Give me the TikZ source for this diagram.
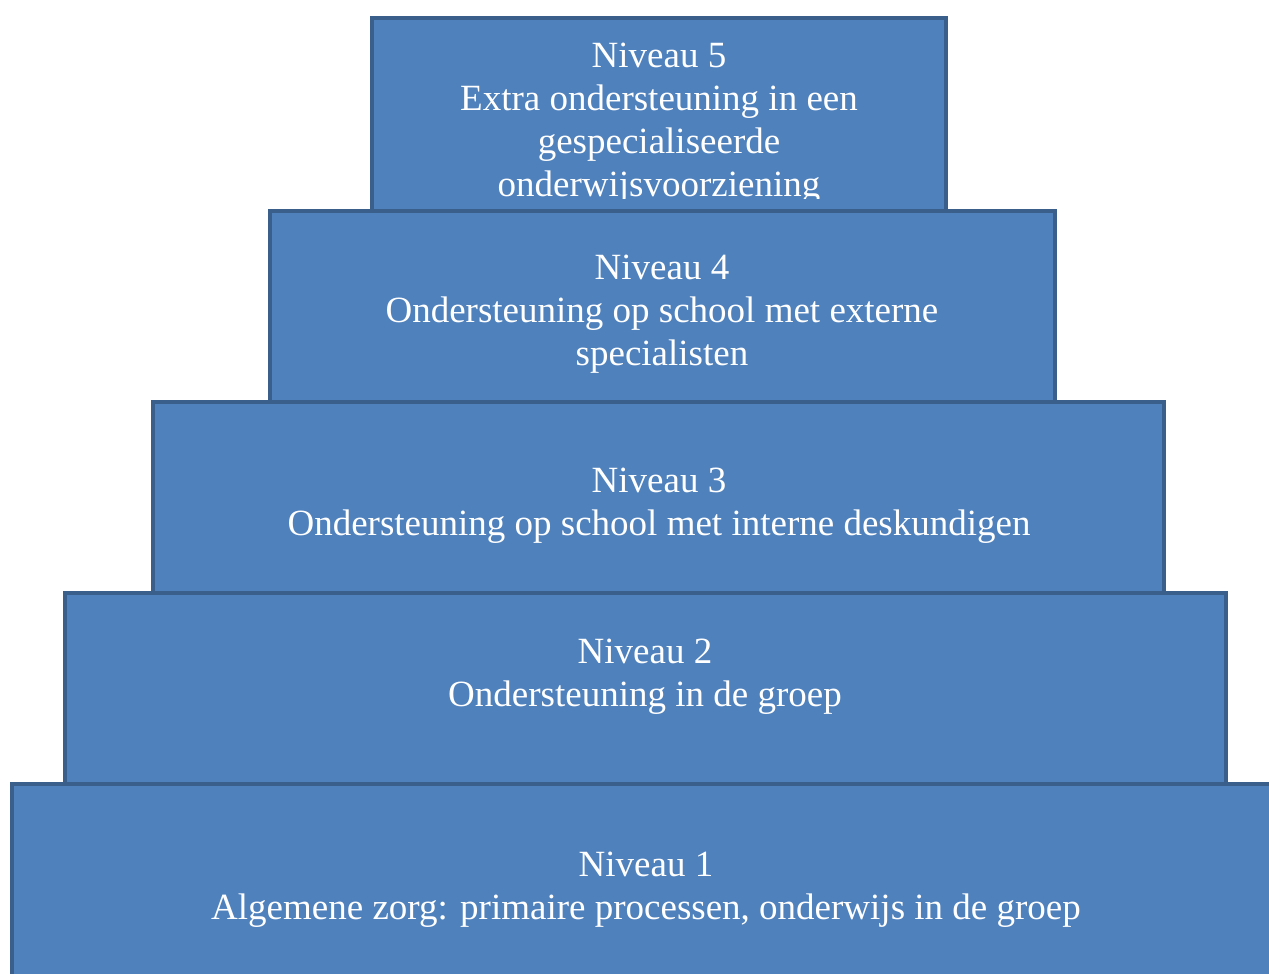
\documentclass[tikz,border=0pt]{standalone}
\usepackage{fontspec}
\setmainfont{Liberation Serif}
\usetikzlibrary{positioning}
\definecolor{tierblue}{HTML}{4F81BD}
\definecolor{tieredge}{HTML}{3A5F8B}

\begin{document}
\begin{tikzpicture}[x=1pt, y=-1pt, tier/.style = {fill=tierblue, draw=tieredge, line width=3.5pt}, every node/.style = {align=center, text=white, inner sep=0pt, font=\fontsize{37}{43}\selectfont}]
  \useasboundingbox (0,0) rectangle (1269,974);
  \clip (0,0) rectangle (1269,974);
  % level 5 (top)
  \draw[tier] (372,18) rectangle (946,211);
  \begin{scope}
    \clip (372,18) rectangle (946,198);
    \node[anchor=base] (niveau5) at (659,196) {Niveau 5\\Extra ondersteuning in een\\gespecialiseerde\\onderwijsvoorziening};
  \end{scope}
  % level 4
  \draw[tier] (270,211) rectangle (1055,402);
  \node[anchor=base] (niveau4) at (662,365) {Niveau 4\\Ondersteuning op school met externe\\specialisten};
  % level 3
  \draw[tier] (153,402) rectangle (1164,593);
  \node[anchor=base] (niveau3) at (659,535) {Niveau 3\\Ondersteuning op school met interne deskundigen};
  % level 2
  \draw[tier] (65,593) rectangle (1226,784);
  \node[anchor=base] (niveau2) at (645,706) {Niveau 2\\Ondersteuning in de groep};
  % level 1 (base)
  \draw[tier] (12,784) rectangle (1300,1000);
  \node[anchor=base] (niveau1) at (646,919) {Niveau 1\\Algemene zorg: primaire processen, onderwijs in de groep};
\end{tikzpicture}
\end{document}
